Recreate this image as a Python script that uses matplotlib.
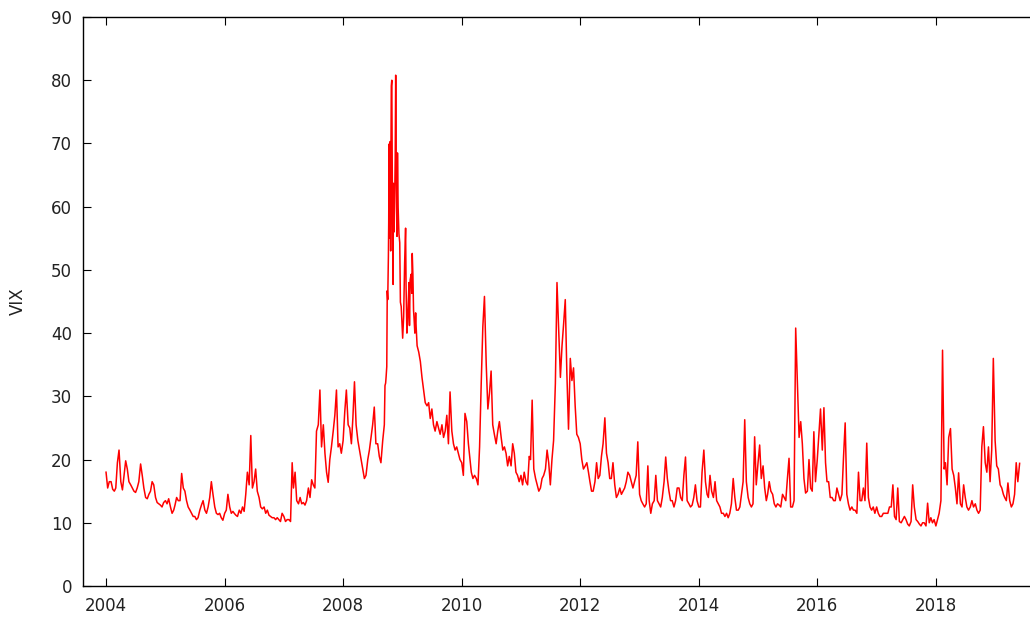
import datetime as dt
import matplotlib
matplotlib.use("Agg")
import matplotlib.pyplot as plt
import matplotlib.dates as mdates

# VIX close: three readings per month (around the 1st, 11th, 21st)
vix_2004 = [18.0, 15.5, 16.5, 16.5, 15.3, 15.0, 15.5, 19.5, 21.5, 16.5, 15.2, 17.5,
            19.8, 18.5, 16.5, 16.0, 15.5, 15.0, 14.8, 15.5, 16.5, 19.3, 17.5, 15.5,
            14.0, 13.8, 14.5, 15.0, 16.5, 16.0, 14.0, 13.2, 13.0, 12.8, 12.5, 13.2]
vix_2005 = [13.5, 13.0, 13.8, 12.5, 11.5, 12.0, 12.8, 14.0, 13.5, 13.5, 17.8, 15.5,
            15.0, 13.5, 12.5, 12.0, 11.5, 11.0, 11.0, 10.5, 10.8, 12.0, 12.8, 13.5,
            12.0, 11.5, 12.5, 14.0, 16.5, 14.5, 12.5, 11.5, 11.3, 11.5, 10.8, 10.4]
vix_2006 = [11.5, 12.0, 14.5, 12.5, 11.5, 11.8, 11.5, 11.2, 11.0, 12.0, 11.5, 12.5,
            11.8, 14.5, 18.0, 16.0, 23.8, 15.5, 16.5, 18.5, 15.0, 14.0, 12.5, 12.2,
            12.5, 11.5, 12.0, 11.2, 11.0, 10.8, 10.8, 10.5, 10.8, 10.5, 10.2, 11.5]
vix_2007 = [11.0, 10.2, 10.5, 10.5, 10.2, 19.5, 15.5, 18.0, 13.5, 13.0, 14.0, 13.0,
            13.2, 12.8, 13.5, 15.5, 14.0, 16.8, 16.0, 15.5, 24.5, 25.5, 31.0, 22.0,
            25.5, 21.0, 18.0, 16.4, 20.0, 22.0, 24.5, 27.0, 31.0, 22.0, 22.5, 21.0]
# Jan - early Sep
vix_2008 = [23.0, 27.5, 31.0, 25.5, 25.0, 22.5, 26.5, 32.3, 25.5, 23.0, 21.5, 20.0,
            18.5, 17.0, 17.5, 20.0, 21.5, 23.5, 25.5, 28.3, 22.5, 22.5, 20.5, 19.5,
            23.0, 25.5]
# crisis: mid Sep 2008 - Mar 2009, denser readings
crisis_dates = ['2008-09-15', '2008-09-19', '2008-09-22', '2008-09-26', '2008-09-29',
                '2008-10-02', '2008-10-06', '2008-10-08', '2008-10-10', '2008-10-13',
                '2008-10-16', '2008-10-17', '2008-10-20', '2008-10-22', '2008-10-24',
                '2008-10-27', '2008-10-29', '2008-10-31', '2008-11-04', '2008-11-06',
                '2008-11-10', '2008-11-13', '2008-11-17', '2008-11-20', '2008-11-24',
                '2008-11-28', '2008-12-01', '2008-12-05', '2008-12-10', '2008-12-15',
                '2008-12-19', '2008-12-24', '2008-12-31', '2009-01-02', '2009-01-08',
                '2009-01-14', '2009-01-20', '2009-01-23', '2009-01-28', '2009-02-03',
                '2009-02-10', '2009-02-13', '2009-02-17', '2009-02-23', '2009-02-27',
                '2009-03-02', '2009-03-06', '2009-03-10', '2009-03-13', '2009-03-18',
                '2009-03-23', '2009-03-26']
crisis_vix = [31.7, 32.1, 33.1, 34.7, 46.7,
              45.3, 52.1, 57.5, 69.9, 55.0,
              67.6, 70.3, 53.0, 69.6, 79.1,
              80.0, 69.9, 59.9, 47.7, 63.7,
              56.0, 59.8, 67.6, 80.8, 64.7,
              55.3, 68.5, 59.9, 55.7, 54.3,
              44.9, 44.2, 40.0, 39.2, 42.6,
              51.0, 56.6, 47.3, 40.0, 43.0,
              48.0, 41.2, 48.4, 49.3, 46.3,
              52.6, 49.3, 43.6, 42.4, 40.0,
              43.2, 41.0]
# Apr - Dec
vix_2009 = [38.0, 37.0, 35.5,
            33.0, 31.0, 29.0, 28.5, 29.0, 26.5, 28.0, 25.5, 24.5, 26.0, 25.0, 24.0,
            25.5, 23.5, 24.5, 27.0, 22.5, 30.7, 24.5, 22.5, 21.5, 22.0, 21.0, 20.0]
vix_2010 = [19.5, 17.5, 27.3, 26.0, 22.5, 20.0, 18.0, 17.0, 17.5, 17.0, 16.0, 22.0,
            32.0, 41.0, 45.8, 35.0, 28.0, 30.5, 34.0, 25.5, 24.0, 22.5, 24.5, 26.0,
            23.5, 21.5, 22.0, 21.0, 19.0, 20.5, 19.0, 22.5, 21.0, 18.0, 17.5, 16.5]
vix_2011 = [17.5, 16.0, 18.0, 16.5, 16.0, 20.5, 20.0, 29.4, 18.5, 17.0, 16.0, 15.0,
            15.5, 17.0, 17.5, 18.5, 21.5, 19.5, 16.0, 20.0, 23.0, 32.0, 48.0, 41.0,
            33.0, 38.0, 41.5, 45.3, 33.5, 24.8, 36.0, 32.5, 34.5, 28.5, 24.0, 23.5]
vix_2012 = [22.5, 20.0, 18.5, 19.0, 19.5, 18.0, 16.5, 15.0, 15.0, 16.5, 19.5, 17.0,
            17.5, 20.5, 22.5, 26.6, 21.0, 19.5, 17.0, 17.0, 19.5, 16.0, 14.0, 14.5,
            15.5, 14.5, 15.0, 15.5, 16.5, 18.0, 17.5, 16.5, 15.5, 16.5, 17.5, 22.8]
vix_2013 = [14.5, 13.5, 13.0, 12.5, 13.0, 19.0, 13.5, 11.5, 13.0, 13.5, 17.5, 13.5,
            13.0, 12.5, 14.0, 16.5, 20.4, 17.0, 15.0, 13.5, 13.5, 12.5, 13.5, 15.5,
            15.5, 14.0, 13.5, 17.5, 20.4, 13.5, 13.0, 12.5, 12.8, 14.0, 16.0, 13.5]
vix_2014 = [12.5, 12.5, 18.0, 21.5, 16.5, 14.5, 14.0, 17.5, 15.0, 14.0, 16.5, 13.5,
            13.0, 12.5, 11.5, 11.5, 11.0, 11.5, 10.8, 11.5, 13.0, 17.0, 14.0, 12.0,
            12.0, 12.5, 14.5, 16.5, 26.3, 16.5, 14.0, 13.0, 12.5, 13.0, 23.6, 16.0]
vix_2015 = [19.5, 22.3, 17.0, 19.0, 15.5, 13.5, 14.5, 16.5, 15.0, 14.5, 13.0, 12.5,
            13.0, 12.8, 12.5, 14.5, 14.0, 13.5, 17.0, 20.2, 12.5, 12.5, 13.5, 40.8,
            31.5, 23.5, 26.0, 22.5, 17.0, 14.7, 15.0, 20.0, 15.5, 15.0, 24.4, 16.5]
vix_2016 = [20.0, 24.0, 28.0, 21.5, 28.2, 19.5, 16.5, 16.5, 14.0, 14.0, 13.5, 13.5,
            15.5, 14.5, 13.5, 14.5, 20.5, 25.8, 14.5, 13.0, 12.0, 12.5, 12.0, 12.0,
            11.5, 18.0, 13.5, 13.5, 15.5, 13.5, 22.6, 14.0, 12.5, 12.0, 12.5, 11.5]
vix_2017 = [12.5, 11.5, 11.0, 11.0, 11.5, 11.5, 11.5, 11.5, 12.5, 12.5, 16.0, 11.0,
            10.5, 15.5, 10.2, 10.0, 10.5, 11.0, 10.5, 9.8, 9.5, 10.2, 16.0, 12.5,
            10.5, 10.2, 9.8, 9.5, 10.0, 10.0, 9.5, 13.1, 10.0, 10.8, 10.0, 10.5]
vix_2018 = [9.5, 10.5, 11.5, 13.5, 37.3, 18.5, 19.5, 16.0, 23.5, 24.9, 18.5, 17.5,
            15.5, 13.0, 17.9, 13.0, 12.5, 16.0, 14.0, 12.5, 12.0, 12.5, 13.5, 12.5,
            13.0, 12.0, 11.5, 12.0, 22.0, 25.2, 19.5, 18.0, 22.0, 16.5, 21.5, 36.0]
vix_2019 = [23.0, 19.0, 18.5, 16.0, 15.5, 14.5, 14.0, 13.5, 16.3, 13.5, 12.5, 13.0,
            14.5, 19.5, 16.5, 19.4]

# year -> (first month, readings)
yearly = {2004: (1, vix_2004), 2005: (1, vix_2005), 2006: (1, vix_2006),
          2007: (1, vix_2007), 2008: (1, vix_2008), 2009: (4, vix_2009),
          2010: (1, vix_2010), 2011: (1, vix_2011), 2012: (1, vix_2012),
          2013: (1, vix_2013), 2014: (1, vix_2014), 2015: (1, vix_2015),
          2016: (1, vix_2016), 2017: (1, vix_2017), 2018: (1, vix_2018),
          2019: (1, vix_2019)}

days = [1, 11, 21]
points = []
for year, (m0, vals) in yearly.items():
    for i, v in enumerate(vals):
        points.append((dt.datetime(year, m0 + i // 3, days[i % 3]), v))
for d, v in zip(crisis_dates, crisis_vix):
    points.append((dt.datetime.strptime(d, '%Y-%m-%d'), v))
points.sort()
dates = [p[0] for p in points]
values = [p[1] for p in points]

plt.rcParams['font.family'] = ['DejaVu Sans']
text_color = '#222222'

fig = plt.figure(figsize=(10.3, 6.18), dpi=100)
ax = fig.add_axes([83 / 1030, 1 - 586 / 618, 1 - 83 / 1030, (586 - 17) / 618])

ax.plot(dates, values, color='#ff0000', linewidth=1.1)

ax.set_xlim(dt.datetime(2003, 8, 12), dt.datetime(2019, 8, 4))
ax.set_ylim(0, 90)
ax.set_yticks(range(0, 91, 10))
ax.xaxis.set_major_locator(mdates.YearLocator(2))
ax.xaxis.set_major_formatter(mdates.DateFormatter('%Y'))

for s in ['left', 'bottom', 'top']:
    ax.spines[s].set_linewidth(1.0)
    ax.spines[s].set_color('black')
ax.spines['right'].set_visible(False)

ax.tick_params(axis='both', direction='in', length=6, width=0.8, color='black',
               labelsize=12, labelcolor=text_color)
ax.tick_params(axis='x', top=True, pad=8)
ax.tick_params(axis='y', pad=8)

fig.text(18 / 1030, 1 - 301 / 618, 'VIX', rotation=90, ha='center', va='center',
         fontsize=12, color=text_color)

fig.savefig('out.png', dpi=100)
